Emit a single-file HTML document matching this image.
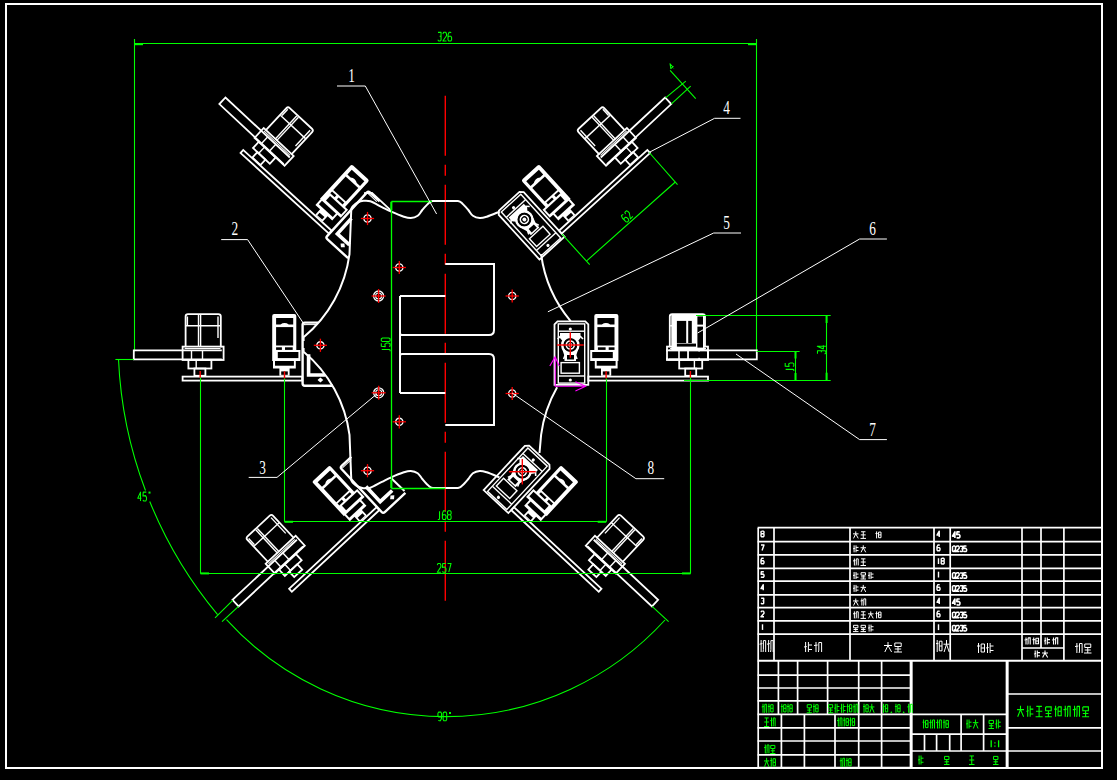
<!DOCTYPE html><html><head><meta charset="utf-8"><title>Hexapod assembly drawing</title><style>html,body{margin:0;padding:0;background:#000;width:1117px;height:780px;overflow:hidden;font-family:"Liberation Sans",sans-serif}svg{display:block}</style></head><body><svg width="1117" height="780" viewBox="0 0 1117 780"><defs><g id="lo"><path d="M221.8,350.3 L133.8,350.3 L133.8,359.3 L221.8,359.3" stroke="#ffffff" stroke-width="1.8" fill="none"/><path d="M185.6,347.3 V316.6 Q185.6,314.2 188,314.2 H218.4 Q220.8,314.2 220.8,316.6 V347.3" stroke="#fff" stroke-width="1.8" fill="none"/><line x1="187.4" y1="316.5" x2="187.4" y2="325" stroke="#ffffff" stroke-width="1.4" /><line x1="218" y1="316.5" x2="218" y2="338" stroke="#ffffff" stroke-width="1.4" /><line x1="198.5" y1="315" x2="198.5" y2="347" stroke="#ffffff" stroke-width="1.4" /><line x1="200.6" y1="315" x2="200.6" y2="347" stroke="#ffffff" stroke-width="1.4" /><line x1="186" y1="325.8" x2="220.4" y2="325.8" stroke="#ffffff" stroke-width="1.4" /><rect x="182.6" y="346.6" width="41" height="13.4" rx="0" stroke="#ffffff" stroke-width="1.8" fill="none"/><line x1="191.5" y1="350.5" x2="191.5" y2="359" stroke="#ffffff" stroke-width="1.4" /><line x1="202.5" y1="350.5" x2="202.5" y2="359" stroke="#ffffff" stroke-width="1.4" /><line x1="184.6" y1="348.5" x2="220.5" y2="348.5" stroke="#ffffff" stroke-width="1.0" /><rect x="188.4" y="360" width="23" height="8.5" rx="0" stroke="#ffffff" stroke-width="1.8" fill="none"/><line x1="196.2" y1="360" x2="196.2" y2="368.5" stroke="#ffffff" stroke-width="1.4" /><rect x="194.4" y="368.5" width="11" height="7.3" rx="0" stroke="#ffffff" stroke-width="1.8" fill="none"/></g><g id="li"><rect x="182.6" y="376.6" width="119.6" height="4" rx="0" stroke="#ffffff" stroke-width="1.8" fill="none"/><path d="M272.2,316 Q272.2,314 274.2,314 H294.3 Q296.3,314 296.3,316 V350.1 H300.4 V360.9 H295.8 V368.6 H289.6 V375.8 H279.4 V368.6 H273 V360.9 H272.2 Z" fill="#fff"/><rect x="276.1" y="327.1" width="17.1" height="18.4" fill="#000"/><rect x="276.1" y="347.3" width="5.8" height="2.6" fill="#000"/><rect x="285" y="347.3" width="7.7" height="2.6" fill="#000"/><rect x="277.8" y="352" width="20.6" height="6.1" fill="#000"/><rect x="275" y="361" width="18.9" height="4.7" fill="#000"/><rect x="281.2" y="371.4" width="6.6" height="3.4" fill="#000"/><path d="M276.1,318.1 H293.2 V324.5 H288.8 Q284.6,321.6 280.4,324.5 H276.1 Z" fill="#000"/></g><g id="brkL"><path d="M318,322.6 H304.8 Q302.6,322.6 302.6,324.8 V383.6 Q302.6,385.8 304.8,385.8 H333" stroke="#fff" stroke-width="2.4" fill="none"/><line x1="304" y1="324.6" x2="316" y2="324.6" stroke="#ffffff" stroke-width="1.0" /><path d="M308.6,354.2 V375 H325" stroke="#fff" stroke-width="3.6" fill="none"/><path d="M317.5,380 L320.4,377.5 L323.3,380 L320.4,382.6Z" fill="#fff"/></g><g id="brkR"><path d="M336.1,384.8 V324.3 L333.1,321.3 H305.3 L302.3,324.3 V384.8 Z" stroke="#fff" stroke-width="1.8" fill="none"/><rect x="305.9" y="323.9" width="26.4" height="59.2" rx="0" stroke="#ffffff" stroke-width="1.4" fill="none"/><line x1="305.9" y1="331.2" x2="332.3" y2="331.2" stroke="#ffffff" stroke-width="1.4" /><path d="M310.1,333 H330.6 V338 L328.1,341 V350 L326.1,356 V361 H314.6 V356 L312.6,350 V341 L310.1,338 Z" fill="#fff"/><circle cx="320.3" cy="345" r="7" fill="#000"/><circle cx="320.3" cy="345" r="8.3" stroke="#fff" stroke-width="2" fill="none"/><circle cx="320.3" cy="345" r="2" fill="#fff"/><rect x="316.6" y="355" width="7" height="4.5" fill="#000"/><circle cx="320.3" cy="345" r="4" stroke="#fff" stroke-width="1.6" fill="none"/><path d="M310.6,336 L307.6,339 M330,336 L333,339 M315.6,354 L313.6,359 M325,354 L327,359" stroke="#fff" stroke-width="1.6"/><rect x="311.2" y="362.6" width="18.3" height="10.6" rx="0" stroke="#ffffff" stroke-width="1.4" fill="none"/><line x1="305.9" y1="376" x2="332.3" y2="376" stroke="#ffffff" stroke-width="1.4" /><circle cx="320.3" cy="329" r="1.6" fill="#fff"/><circle cx="320.3" cy="380" r="1.6" fill="#fff"/></g><g id="brkRr"><line x1="306.9" y1="345" x2="333.7" y2="345" stroke="#ff0000" stroke-width="1.4" /><line x1="320.3" y1="332.3" x2="320.3" y2="357.7" stroke="#ff0000" stroke-width="1.4" /></g><g id="ro"><line x1="200.2" y1="371" x2="200.2" y2="377.8" stroke="#ff0000" stroke-width="1.4" /></g><g id="ri"><line x1="284.5" y1="371.3" x2="284.5" y2="378.6" stroke="#ff0000" stroke-width="1.4" /></g><g id="rmot"><path d="M671.3,350.1 V315.5 Q671.3,314.2 672.6,314.2 H703.3 Q704.6,314.2 704.6,315.5 V350.1 Z" fill="#fff"/><rect x="676.9" y="320.9" width="9.3" height="22.1" fill="#000"/><rect x="688.2" y="320.9" width="3.6" height="22.1" fill="#000"/><rect x="697.4" y="316.4" width="5.6" height="8.2" fill="#000"/><rect x="697.4" y="326.6" width="5.6" height="21" fill="#000"/><rect x="676.9" y="343.6" width="19.1" height="3" fill="#000"/><rect x="665.7" y="351.6" width="14" height="6.2" fill="#000"/><rect x="679.2" y="351.6" width="8.3" height="6.2" fill="#000"/><rect x="688.8" y="351.6" width="17" height="6.2" fill="#000"/><path d="M667,350.3 H708 V359.3 H667 Z" stroke="#fff" stroke-width="1.8" fill="none"/><line x1="679" y1="350.3" x2="679" y2="359.3" stroke="#ffffff" stroke-width="1.6" /><line x1="688" y1="350.3" x2="688" y2="359.3" stroke="#ffffff" stroke-width="1.6" /></g></defs><rect x="0" y="0" width="1117" height="780" fill="#000"/><rect x="6" y="4" width="1096" height="764" rx="0" stroke="#ffffff" stroke-width="2.0" fill="none"/><line x1="134.5" y1="39" x2="134.5" y2="351.5" stroke="#00ff00" stroke-width="1.1" /><line x1="756.5" y1="39" x2="756.5" y2="351.5" stroke="#00ff00" stroke-width="1.1" /><line x1="134.5" y1="43.5" x2="756.5" y2="43.5" stroke="#00ff00" stroke-width="1.1" /><path d="M134.5,43 L143,43 L143,45.2 L134.5,45.2Z" fill="#00ff00"/><path d="M756.5,43 L748,43 L748,45.2 L756.5,45.2Z" fill="#00ff00"/><path d="M437.98,32.38 L441.04,32.38 L441.04,40.12 L440.32,41 L438.7,41 L437.8,39.68 M439.6,36.34 L441.04,36.34 M442.9,33.96 L443.62,32.2 L445.78,32.2 L446.5,33.96 L446.5,35.72 L442.9,41 L446.5,41 M451.24,32.64 L450.16,32.2 L449.08,32.2 L448,34.84 L448,39.68 L448.72,41 L450.88,41 L451.6,39.68 L451.6,37.48 L450.88,36.16 L448.72,36.16 L448,37.48" stroke="#00ff00" stroke-width="1.05" fill="none" stroke-linejoin="round"/><line x1="445.3" y1="95.7" x2="445.3" y2="602.7" stroke="#ff0000" stroke-width="1.4" stroke-dasharray="60 9 11 9"/><use href="#lo" transform=""/><use href="#li" transform=""/><use href="#brkL" transform=""/><use href="#ro" transform=""/><use href="#ri" transform=""/><use href="#lo" transform="translate(890.6,0) scale(-1,1) "/><use href="#rmot"/><use href="#li" transform="translate(890.6,0) scale(-1,1) "/><use href="#brkR" transform="translate(890.6,0) scale(-1,1) "/><use href="#ro" transform="translate(890.6,0) scale(-1,1) "/><use href="#ri" transform="translate(890.6,0) scale(-1,1) "/><use href="#lo" transform="translate(222.5,100.7) rotate(43) translate(-133.8,-354.7)"/><use href="#li" transform="translate(241.89,151.46) rotate(42.4) translate(-182.6,-378.6)"/><use href="#brkL" transform="translate(241.89,151.46) rotate(42.4) translate(-182.6,-378.6)"/><use href="#lo" transform="translate(890.6,0) scale(-1,1) translate(222.5,100.7) rotate(43) translate(-133.8,-354.7)"/><use href="#li" transform="translate(890.6,0) scale(-1,1) translate(241.89,151.46) rotate(42.4) translate(-182.6,-378.6)"/><use href="#brkR" transform="translate(890.6,0) scale(-1,1) translate(241.89,151.46) rotate(42.4) translate(-182.6,-378.6)"/><use href="#lo" transform="translate(235.5,603) rotate(-43) translate(-133.8,-354.7)"/><use href="#li" transform="translate(290.49,590.2) rotate(-43) translate(-182.6,-378.6)"/><use href="#brkL" transform="translate(290.49,590.2) rotate(-43) translate(-182.6,-378.6)"/><use href="#lo" transform="translate(890.6,0) scale(-1,1) translate(235.5,603) rotate(-43) translate(-133.8,-354.7)"/><use href="#li" transform="translate(890.6,0) scale(-1,1) translate(290.49,590.2) rotate(-43) translate(-182.6,-378.6)"/><use href="#brkR" transform="translate(890.6,0) scale(-1,1) translate(290.49,590.2) rotate(-43) translate(-182.6,-378.6)"/><line x1="556.9" y1="345" x2="583.7" y2="345" stroke="#ff0000" stroke-width="1.4" /><line x1="570.3" y1="332.3" x2="570.3" y2="357.7" stroke="#ff0000" stroke-width="1.4" /><line x1="508.92" y1="471.71" x2="535.72" y2="471.71" stroke="#ff0000" stroke-width="1.4" /><line x1="522.32" y1="459.01" x2="522.32" y2="484.41" stroke="#ff0000" stroke-width="1.4" /><path d="M445.3,201.1 C443.2,201.1 435.57,200.67 432.7,201.1 C429.83,201.53 429.83,202.22 428.1,203.7 C426.37,205.18 424.03,207.98 422.3,210 C420.57,212.02 419.62,214.45 417.7,215.8 C415.78,217.15 413.12,217.95 410.8,218.1 C408.48,218.25 407.07,217.77 403.8,216.7 C400.53,215.63 394.85,213.3 391.2,211.7 C387.55,210.1 385.37,208.83 381.9,207.1 C378.43,205.37 373.47,202.35 370.4,201.3 C367.33,200.25 365.62,200.6 363.5,200.8 C361.38,201 359.43,201.63 357.7,202.5 C355.97,203.37 354.17,204.95 353.1,206 C352.03,207.05 351.6,208.33 351.3,208.8 L349.5,254.1 A130.7,130.7 0 0 1 303.6,337.3 L303.6,341" stroke="#fff" stroke-width="2.0" fill="none"/><path d="M445.3,201.1 C443.2,201.1 435.57,200.67 432.7,201.1 C429.83,201.53 429.83,202.22 428.1,203.7 C426.37,205.18 424.03,207.98 422.3,210 C420.57,212.02 419.62,214.45 417.7,215.8 C415.78,217.15 413.12,217.95 410.8,218.1 C408.48,218.25 407.07,217.77 403.8,216.7 C400.53,215.63 394.85,213.3 391.2,211.7 C387.55,210.1 385.37,208.83 381.9,207.1 C378.43,205.37 373.47,202.35 370.4,201.3 C367.33,200.25 365.62,200.6 363.5,200.8 C361.38,201 359.43,201.63 357.7,202.5 C355.97,203.37 354.17,204.95 353.1,206 C352.03,207.05 351.6,208.33 351.3,208.8 L349.5,254.1 A130.7,130.7 0 0 1 303.6,337.3 L303.6,341" stroke="#fff" stroke-width="2.0" fill="none" transform="translate(0,689.0) scale(1,-1)"/><path d="M364,193.2 L372,192.8 L391.4,210.8" stroke="#ffffff" stroke-width="1.8" fill="none"/><path d="M390.5,477.5 L404.5,491" stroke="#ffffff" stroke-width="2.0" fill="none"/><path d="M445.3,201.1 C447.4,201.1 455.03,200.67 457.9,201.1 C460.77,201.53 460.77,202.22 462.5,203.7 C464.23,205.18 466.57,207.98 468.3,210 C470.03,212.02 470.98,214.45 472.9,215.8 C474.82,217.15 477.48,217.95 479.8,218.1 C482.12,218.25 483.53,217.77 486.8,216.7 C490.07,215.63 497.3,212.53 499.4,211.7" stroke="#fff" stroke-width="2.0" fill="none"/><path d="M445.3,201.1 C447.4,201.1 455.03,200.67 457.9,201.1 C460.77,201.53 460.77,202.22 462.5,203.7 C464.23,205.18 466.57,207.98 468.3,210 C470.03,212.02 470.98,214.45 472.9,215.8 C474.82,217.15 477.48,217.95 479.8,218.1 C482.12,218.25 483.53,217.77 486.8,216.7 C490.07,215.63 497.3,212.53 499.4,211.7" stroke="#fff" stroke-width="2.0" fill="none" transform="translate(0,689.0) scale(1,-1)"/><path d="M541.1,254.1 A130.7,130.7 0 0 0 570.8,321.3" stroke="#fff" stroke-width="2.0" fill="none"/><path d="M557.1,387.3 A130.7,130.7 0 0 0 541.1,434.9 L539.5,453" stroke="#fff" stroke-width="2.0" fill="none"/><path d="M400,296 V393 M400,296 H445.3 M445.3,264 H494 V330 Q494,335 489,335 H402 Q400,335 400,333 M400,356 Q400,354 402,354 H489 Q494,354 494,359 V425 H445.3 M445.3,393 H400" stroke="#fff" stroke-width="2.0" fill="none"/><circle cx="367.5" cy="218.5" r="3.6" stroke="#fff" stroke-width="1.4" fill="none"/><line x1="360.9" y1="218.5" x2="374.1" y2="218.5" stroke="#ff0000" stroke-width="1.3" /><line x1="367.5" y1="211.9" x2="367.5" y2="225.1" stroke="#ff0000" stroke-width="1.3" /><circle cx="399.3" cy="267.5" r="3.6" stroke="#fff" stroke-width="1.4" fill="none"/><line x1="392.7" y1="267.5" x2="405.9" y2="267.5" stroke="#ff0000" stroke-width="1.3" /><line x1="399.3" y1="260.9" x2="399.3" y2="274.1" stroke="#ff0000" stroke-width="1.3" /><circle cx="378.6" cy="296" r="5" stroke="#fff" stroke-width="1.3" fill="none"/><circle cx="378.6" cy="296" r="3" stroke="#fff" stroke-width="1.1" fill="none"/><line x1="371.6" y1="296" x2="385.6" y2="296" stroke="#ff0000" stroke-width="1.3" /><line x1="378.6" y1="289" x2="378.6" y2="303" stroke="#ff0000" stroke-width="1.3" /><circle cx="320.4" cy="345.3" r="3.6" stroke="#fff" stroke-width="1.4" fill="none"/><line x1="313.8" y1="345.3" x2="327" y2="345.3" stroke="#ff0000" stroke-width="1.3" /><line x1="320.4" y1="338.7" x2="320.4" y2="351.9" stroke="#ff0000" stroke-width="1.3" /><circle cx="378.7" cy="392.8" r="5" stroke="#fff" stroke-width="1.3" fill="none"/><circle cx="378.7" cy="392.8" r="3" stroke="#fff" stroke-width="1.1" fill="none"/><line x1="371.7" y1="392.8" x2="385.7" y2="392.8" stroke="#ff0000" stroke-width="1.3" /><line x1="378.7" y1="385.8" x2="378.7" y2="399.8" stroke="#ff0000" stroke-width="1.3" /><circle cx="399.3" cy="421.8" r="3.6" stroke="#fff" stroke-width="1.4" fill="none"/><line x1="392.7" y1="421.8" x2="405.9" y2="421.8" stroke="#ff0000" stroke-width="1.3" /><line x1="399.3" y1="415.2" x2="399.3" y2="428.4" stroke="#ff0000" stroke-width="1.3" /><circle cx="367.5" cy="470.7" r="3.6" stroke="#fff" stroke-width="1.4" fill="none"/><line x1="360.9" y1="470.7" x2="374.1" y2="470.7" stroke="#ff0000" stroke-width="1.3" /><line x1="367.5" y1="464.1" x2="367.5" y2="477.3" stroke="#ff0000" stroke-width="1.3" /><circle cx="512.2" cy="296" r="3.6" stroke="#fff" stroke-width="1.4" fill="none"/><line x1="505.6" y1="296" x2="518.8" y2="296" stroke="#ff0000" stroke-width="1.3" /><line x1="512.2" y1="289.4" x2="512.2" y2="302.6" stroke="#ff0000" stroke-width="1.3" /><circle cx="512.2" cy="393.5" r="3.6" stroke="#fff" stroke-width="1.4" fill="none"/><line x1="505.6" y1="393.5" x2="518.8" y2="393.5" stroke="#ff0000" stroke-width="1.3" /><line x1="512.2" y1="386.9" x2="512.2" y2="400.1" stroke="#ff0000" stroke-width="1.3" /><line x1="391.5" y1="201.5" x2="391.5" y2="488.5" stroke="#00ff00" stroke-width="1.3" /><line x1="391.5" y1="201.5" x2="432" y2="201.5" stroke="#00ff00" stroke-width="1.3" /><line x1="391.5" y1="488.5" x2="445.3" y2="488.5" stroke="#00ff00" stroke-width="1.3" /><path d="M390.3,201.8 L392.3,201.8 L392.3,210 L390.3,210Z" fill="#00ff00"/><path d="M390.3,488.1 L392.3,488.1 L392.3,480 L390.3,480Z" fill="#00ff00"/><path d="M2.23,0.44 L2.23,8.18 L1.8,8.8 L0.54,8.8 M8.52,0 L5.46,0 L5.17,3.96 L7.62,3.52 L8.7,5.28 L8.7,7.48 L7.98,8.8 L5.82,8.8 L5.1,7.92 M10.92,0 L13.08,0 L13.8,1.32 L13.8,7.48 L13.08,8.8 L10.92,8.8 L10.2,7.48 L10.2,1.32 L10.92,0" stroke="#00ff00" stroke-width="1.05" fill="none" stroke-linejoin="round" transform="translate(381.3,351.8) rotate(-90)"/><line x1="284.5" y1="378.6" x2="284.5" y2="521.5" stroke="#00ff00" stroke-width="1.1" /><line x1="606.5" y1="378.6" x2="606.5" y2="521.5" stroke="#00ff00" stroke-width="1.1" /><line x1="284.5" y1="521.5" x2="606.5" y2="521.5" stroke="#00ff00" stroke-width="1.1" /><path d="M284.5,520.8 L293,520.8 L293,522.8 L284.5,522.8Z" fill="#00ff00"/><path d="M606.2,520.8 L597.7,520.8 L597.7,522.8 L606.2,522.8Z" fill="#00ff00"/><path d="M439.53,511.23 L439.53,518.8 L439.1,519.4 L437.84,519.4 M445.64,511.23 L444.56,510.8 L443.48,510.8 L442.4,513.38 L442.4,518.11 L443.12,519.4 L445.28,519.4 L446,518.11 L446,515.96 L445.28,514.67 L443.12,514.67 L442.4,515.96 M448.22,510.8 L450.38,510.8 L451.1,511.83 L451.1,513.81 L450.38,514.84 L448.22,514.84 L447.5,513.81 L447.5,511.83 L448.22,510.8 M448.22,514.84 L447.5,515.96 L447.5,518.37 L448.22,519.4 L450.38,519.4 L451.1,518.37 L451.1,515.96 L450.38,514.84" stroke="#00ff00" stroke-width="1.05" fill="none" stroke-linejoin="round"/><line x1="200.5" y1="377.8" x2="200.5" y2="573.5" stroke="#00ff00" stroke-width="1.1" /><line x1="690.5" y1="377.8" x2="690.5" y2="573.5" stroke="#00ff00" stroke-width="1.1" /><line x1="200.5" y1="573.5" x2="690.5" y2="573.5" stroke="#00ff00" stroke-width="1.1" /><path d="M200.5,572.4 L209,572.4 L209,574.4 L200.5,574.4Z" fill="#00ff00"/><path d="M690.5,572.4 L682,572.4 L682,574.4 L690.5,574.4Z" fill="#00ff00"/><path d="M437.3,565.16 L438.02,563.4 L440.18,563.4 L440.9,565.16 L440.9,566.92 L437.3,572.2 L440.9,572.2 M445.82,563.4 L442.76,563.4 L442.47,567.36 L444.92,566.92 L446,568.68 L446,570.88 L445.28,572.2 L443.12,572.2 L442.4,571.32 M447.5,563.4 L451.1,563.4 L448.76,572.2" stroke="#00ff00" stroke-width="1.05" fill="none" stroke-linejoin="round"/><line x1="696" y1="315.5" x2="830.7" y2="315.5" stroke="#00ff00" stroke-width="1.1" /><line x1="684" y1="380.5" x2="830.7" y2="380.5" stroke="#00ff00" stroke-width="1.1" /><line x1="826.5" y1="315.5" x2="826.5" y2="380.5" stroke="#00ff00" stroke-width="1.1" /><path d="M825.6,315.5 L827.6,315.5 L827.6,323 L825.6,323Z" fill="#00ff00"/><path d="M825.6,380.2 L827.6,380.2 L827.6,372.7 L825.6,372.7Z" fill="#00ff00"/><line x1="756.5" y1="351.5" x2="799.6" y2="351.5" stroke="#00ff00" stroke-width="1.1" /><line x1="795.5" y1="351.5" x2="795.5" y2="380.5" stroke="#00ff00" stroke-width="1.1" /><path d="M794.5,351.4 L796.5,351.4 L796.5,358.5 L794.5,358.5Z" fill="#00ff00"/><path d="M794.5,380.2 L796.5,380.2 L796.5,373 L794.5,373Z" fill="#00ff00"/><path d="M0.18,0.17 L3.24,0.17 L3.24,7.74 L2.52,8.6 L0.9,8.6 L0,7.31 M1.8,4.04 L3.24,4.04 M7.8,8.6 L7.8,0 L5.1,6.02 L8.7,6.02" stroke="#00ff00" stroke-width="1.05" fill="none" stroke-linejoin="round" transform="translate(817.3,354) rotate(-90)"/><path d="M2.23,0.43 L2.23,8 L1.8,8.6 L0.54,8.6 M8.52,0 L5.46,0 L5.17,3.87 L7.62,3.44 L8.7,5.16 L8.7,7.31 L7.98,8.6 L5.82,8.6 L5.1,7.74" stroke="#00ff00" stroke-width="1.05" fill="none" stroke-linejoin="round" transform="translate(785.2,371.6) rotate(-90)"/><line x1="649.2" y1="152.5" x2="677.5" y2="184.7" stroke="#00ff00" stroke-width="1.1" /><line x1="562" y1="234.2" x2="589.7" y2="264.7" stroke="#00ff00" stroke-width="1.1" /><line x1="586.7" y1="260.8" x2="675.3" y2="182" stroke="#00ff00" stroke-width="1.1" /><path d="M3.24,0.43 L2.16,0 L1.08,0 L0,2.58 L0,7.31 L0.72,8.6 L2.88,8.6 L3.6,7.31 L3.6,5.16 L2.88,3.87 L0.72,3.87 L0,5.16 M5.1,1.72 L5.82,0 L7.98,0 L8.7,1.72 L8.7,3.44 L5.1,8.6 L8.7,8.6" stroke="#00ff00" stroke-width="1.05" fill="none" transform="translate(620.7,216.5) rotate(-45)" stroke-linejoin="round"/><line x1="665.6" y1="97.9" x2="685.8" y2="81.2" stroke="#00ff00" stroke-width="1.1" /><line x1="671.4" y1="103.9" x2="690.7" y2="86.2" stroke="#00ff00" stroke-width="1.1" /><line x1="670.1" y1="70.3" x2="695.7" y2="98.7" stroke="#00ff00" stroke-width="1.1" /><path d="M2.7,6 L2.7,0 L0,4.2 L3.6,4.2" stroke="#00ff00" stroke-width="1.0" fill="none" transform="translate(672,70) rotate(-41.6) translate(0,-6)" stroke-linejoin="round"/><line x1="115.4" y1="359.5" x2="133.8" y2="359.5" stroke="#00ff00" stroke-width="1.1" /><line x1="232.7" y1="600.3" x2="215" y2="617.8" stroke="#00ff00" stroke-width="1.1" /><line x1="238.5" y1="606.3" x2="222" y2="621.7" stroke="#00ff00" stroke-width="1.1" /><line x1="652.1" y1="606.3" x2="668.6" y2="621.7" stroke="#00ff00" stroke-width="1.1" /><path d="M118.5,359.2 A424.6,424.6 0 0 0 145.49,490.5 M149.75,501.5 A424.6,424.6 0 0 0 217.6,614.6" stroke="#00ff00" stroke-width="1.1" fill="none"/><path d="M226.5,619.7 A296.7,296.7 0 0 0 665,620" stroke="#00ff00" stroke-width="1.1" fill="none"/><path d="M140.5,500.9 L140.5,492.1 L137.8,498.26 L141.4,498.26 M146.32,492.1 L143.26,492.1 L142.97,496.06 L145.42,495.62 L146.5,497.38 L146.5,499.58 L145.78,500.9 L143.62,500.9 L142.9,500.02" stroke="#00ff00" stroke-width="1.05" fill="none" stroke-linejoin="round"/><rect x="148.5" y="491.6" width="2" height="2" fill="#00ff00"/><path d="M438.26,720.37 L439.34,720.8 L440.42,720.8 L441.5,718.19 L441.5,713.4 L440.78,712.1 L438.62,712.1 L437.9,713.4 L437.9,715.58 L438.62,716.88 L440.78,716.88 L441.5,715.58 M443.82,712.1 L445.98,712.1 L446.7,713.4 L446.7,719.5 L445.98,720.8 L443.82,720.8 L443.1,719.5 L443.1,713.4 L443.82,712.1" stroke="#00ff00" stroke-width="1.05" fill="none" stroke-linejoin="round"/><rect x="449" y="712" width="2" height="2" fill="#00ff00"/><path d="M337,86 L365.3,86 L436.6,214" stroke="#ffffff" stroke-width="1.0" fill="none"/><text x="0" y="0" font-family="Liberation Serif" font-size="18.5" fill="#fff" transform="translate(348.2,82.2) scale(0.72,1)">1</text><path d="M221.2,239.6 L247.6,239.6 L304.7,325.2" stroke="#ffffff" stroke-width="1.0" fill="none"/><text x="0" y="0" font-family="Liberation Serif" font-size="18.5" fill="#fff" transform="translate(231.5,235.2) scale(0.72,1)">2</text><path d="M248.7,477.4 L277,477.4 L377,393.8" stroke="#ffffff" stroke-width="1.0" fill="none"/><text x="0" y="0" font-family="Liberation Serif" font-size="18.5" fill="#fff" transform="translate(259.2,474.3) scale(0.72,1)">3</text><path d="M740.5,118.3 L714.6,118.3 L649.7,152.1" stroke="#ffffff" stroke-width="1.0" fill="none"/><text x="0" y="0" font-family="Liberation Serif" font-size="18.5" fill="#fff" transform="translate(723.3,114) scale(0.72,1)">4</text><path d="M741,233 L713.7,233 L547.9,311.8" stroke="#ffffff" stroke-width="1.0" fill="none"/><text x="0" y="0" font-family="Liberation Serif" font-size="18.5" fill="#fff" transform="translate(723.3,229) scale(0.72,1)">5</text><path d="M886.9,239 L859.6,239 L697.6,333" stroke="#ffffff" stroke-width="1.0" fill="none"/><text x="0" y="0" font-family="Liberation Serif" font-size="18.5" fill="#fff" transform="translate(869.3,235) scale(0.72,1)">6</text><path d="M886.9,439.6 L859.6,439.6 L736,354" stroke="#ffffff" stroke-width="1.0" fill="none"/><text x="0" y="0" font-family="Liberation Serif" font-size="18.5" fill="#fff" transform="translate(869.2,435.7) scale(0.72,1)">7</text><path d="M664.2,478.7 L635.9,478.7 L512.1,393" stroke="#ffffff" stroke-width="1.0" fill="none"/><text x="0" y="0" font-family="Liberation Serif" font-size="18.5" fill="#fff" transform="translate(647.5,473.8) scale(0.72,1)">8</text><path d="M555.2,356.7 V386.3 H585.6 M549.8,366.1 L555.2,356.7 L559.2,366.1 M575.4,381.7 L585.6,386.3 L575.4,390.9" stroke="#ff00ff" stroke-width="1.1" fill="none"/><line x1="757.6" y1="527.7" x2="1101.6" y2="527.7" stroke="#ffffff" stroke-width="1.7" /><line x1="757.6" y1="541.6" x2="1101.6" y2="541.6" stroke="#ffffff" stroke-width="1.7" /><line x1="757.6" y1="554.8" x2="1101.6" y2="554.8" stroke="#ffffff" stroke-width="1.7" /><line x1="757.6" y1="568.3" x2="1101.6" y2="568.3" stroke="#ffffff" stroke-width="1.7" /><line x1="757.6" y1="581.2" x2="1101.6" y2="581.2" stroke="#ffffff" stroke-width="1.7" /><line x1="757.6" y1="594.8" x2="1101.6" y2="594.8" stroke="#ffffff" stroke-width="1.7" /><line x1="757.6" y1="607.7" x2="1101.6" y2="607.7" stroke="#ffffff" stroke-width="1.7" /><line x1="757.6" y1="620.9" x2="1101.6" y2="620.9" stroke="#ffffff" stroke-width="1.7" /><line x1="757.6" y1="634.2" x2="1101.6" y2="634.2" stroke="#ffffff" stroke-width="1.7" /><line x1="757.6" y1="660.8" x2="1101.6" y2="660.8" stroke="#ffffff" stroke-width="2.0" /><line x1="758.2" y1="528" x2="758.2" y2="660.8" stroke="#ffffff" stroke-width="1.7" /><line x1="774" y1="528" x2="774" y2="660.8" stroke="#ffffff" stroke-width="1.7" /><line x1="850" y1="528" x2="850" y2="660.8" stroke="#ffffff" stroke-width="1.7" /><line x1="934" y1="528" x2="934" y2="660.8" stroke="#ffffff" stroke-width="1.7" /><line x1="950.2" y1="528" x2="950.2" y2="660.8" stroke="#ffffff" stroke-width="1.7" /><line x1="1022" y1="528" x2="1022" y2="660.8" stroke="#ffffff" stroke-width="1.7" /><line x1="1063.9" y1="528" x2="1063.9" y2="660.8" stroke="#ffffff" stroke-width="1.7" /><line x1="1041" y1="528" x2="1041" y2="648" stroke="#ffffff" stroke-width="1.7" /><line x1="1022" y1="648" x2="1063.9" y2="648" stroke="#ffffff" stroke-width="1.7" /><path d="M761.6,531.1 L763.4,531.1 L764,531.77 L764,533.06 L763.4,533.73 L761.6,533.73 L761,533.06 L761,531.77 L761.6,531.1 M761.6,533.73 L761,534.46 L761,536.03 L761.6,536.7 L763.4,536.7 L764,536.03 L764,534.46 L763.4,533.73" stroke="#ffffff" stroke-width="1.4" fill="none" stroke-linejoin="round"/><path d="M853,533.85 L858.5,533.85 M855.75,531.4 L855.75,533.85 M855.75,533.85 L853.55,538.4 M855.75,533.85 L858.23,538.4 M861.05,531.75 L865.45,531.75 M863.25,531.75 L863.25,538.4 M860.77,534.9 L865.73,534.9 M860.5,538.4 L866,538.4 M876.6,531.4 L876.6,538.4 M875.5,533.5 L877.7,533.5 M878.52,532.1 L881,532.1 L881,537.7 L878.52,537.7 L878.52,532.1 M878.52,534.9 L881,534.9" stroke="#ffffff" stroke-width="1.0" fill="none"/><path d="M939.25,536.9 L939.25,531.1 L937,535.16 L940,535.16" stroke="#ffffff" stroke-width="1.4" fill="none" stroke-linejoin="round"/><path d="M954.9,537.9 L954.9,531.9 L952.5,536.1 L955.7,536.1 M959.74,531.9 L957.02,531.9 L956.76,534.6 L958.94,534.3 L959.9,535.5 L959.9,537 L959.26,537.9 L957.34,537.9 L956.7,537.3" stroke="#ffffff" stroke-width="1.6" fill="none" stroke-linejoin="round"/><path d="M761,545 L764,545 L762.05,550.6" stroke="#ffffff" stroke-width="1.4" fill="none" stroke-linejoin="round"/><path d="M854.1,545.3 L854.1,552.3 M856.02,545.3 L856.02,552.3 M856.02,547.4 L858.5,547.4 M856.02,550.55 L858.5,550.55 M853,548.8 L854.92,548.45 M860.5,547.75 L866,547.75 M863.25,545.3 L863.25,547.75 M863.25,547.75 L861.05,552.3 M863.25,547.75 L865.73,552.3" stroke="#ffffff" stroke-width="1.0" fill="none"/><path d="M939.7,545.29 L938.8,545 L937.9,545 L937,546.74 L937,549.93 L937.6,550.8 L939.4,550.8 L940,549.93 L940,548.48 L939.4,547.61 L937.6,547.61 L937,548.48" stroke="#ffffff" stroke-width="1.4" fill="none" stroke-linejoin="round"/><path d="M953.1,546.1 L954.9,546.1 L955.5,546.93 L955.5,550.77 L954.9,551.6 L953.1,551.6 L952.5,550.77 L952.5,546.93 L953.1,546.1 M954.15,549.95 L955.65,552.15 M956.2,547.2 L956.8,546.1 L958.6,546.1 L959.2,547.2 L959.2,548.3 L956.2,551.6 L959.2,551.6 M960.05,546.21 L962.6,546.21 L962.6,551.05 L962,551.6 L960.65,551.6 L959.9,550.77 M961.4,548.69 L962.6,548.69 M966.45,546.1 L963.9,546.1 L963.66,548.58 L965.7,548.3 L966.6,549.4 L966.6,550.77 L966,551.6 L964.2,551.6 L963.6,551.05" stroke="#ffffff" stroke-width="1.5" fill="none" stroke-linejoin="round"/><path d="M763.7,558.48 L762.8,558.2 L761.9,558.2 L761,559.88 L761,562.96 L761.6,563.8 L763.4,563.8 L764,562.96 L764,561.56 L763.4,560.72 L761.6,560.72 L761,561.56" stroke="#ffffff" stroke-width="1.4" fill="none" stroke-linejoin="round"/><path d="M854.38,558.5 L854.38,565.5 M853,560.95 L855.48,560.6 M856.3,558.85 L856.3,564.1 L856.02,565.5 M856.3,558.85 L858.23,558.85 L858.23,565.5 M861.05,558.85 L865.45,558.85 M863.25,558.85 L863.25,565.5 M860.77,562 L865.73,562 M860.5,565.5 L866,565.5" stroke="#ffffff" stroke-width="1.0" fill="none"/><path d="M938.5,558.2 L938.5,564 M941.8,558.2 L943.6,558.2 L944.2,558.9 L944.2,560.23 L943.6,560.93 L941.8,560.93 L941.2,560.23 L941.2,558.9 L941.8,558.2 M941.8,560.93 L941.2,561.68 L941.2,563.3 L941.8,564 L943.6,564 L944.2,563.3 L944.2,561.68 L943.6,560.93" stroke="#ffffff" stroke-width="1.4" fill="none" stroke-linejoin="round"/><path d="M763.85,571.7 L761.3,571.7 L761.06,574.22 L763.1,573.94 L764,575.06 L764,576.46 L763.4,577.3 L761.6,577.3 L761,576.74" stroke="#ffffff" stroke-width="1.4" fill="none" stroke-linejoin="round"/><path d="M854.1,572 L854.1,579 M856.02,572 L856.02,579 M856.02,574.1 L858.5,574.1 M856.02,577.25 L858.5,577.25 M853,575.5 L854.92,575.15 M861.05,572.7 L865.45,572.7 L865.45,575.15 L861.05,575.15 L861.05,572.7 M863.25,575.15 L863.25,579 M861.05,576.9 L865.45,576.9 M860.5,579 L866,579 M869.1,572 L869.1,579 M871.02,572 L871.02,579 M871.02,574.1 L873.5,574.1 M871.02,577.25 L873.5,577.25 M868,575.5 L869.92,575.15" stroke="#ffffff" stroke-width="1.0" fill="none"/><path d="M938.5,571.7 L938.5,577.5" stroke="#ffffff" stroke-width="1.4" fill="none" stroke-linejoin="round"/><path d="M953.1,572.8 L954.9,572.8 L955.5,573.62 L955.5,577.47 L954.9,578.3 L953.1,578.3 L952.5,577.47 L952.5,573.62 L953.1,572.8 M954.15,576.65 L955.65,578.85 M956.2,573.9 L956.8,572.8 L958.6,572.8 L959.2,573.9 L959.2,575 L956.2,578.3 L959.2,578.3 M960.05,572.91 L962.6,572.91 L962.6,577.75 L962,578.3 L960.65,578.3 L959.9,577.47 M961.4,575.38 L962.6,575.38 M966.45,572.8 L963.9,572.8 L963.66,575.27 L965.7,575 L966.6,576.1 L966.6,577.47 L966,578.3 L964.2,578.3 L963.6,577.75" stroke="#ffffff" stroke-width="1.5" fill="none" stroke-linejoin="round"/><path d="M763.25,590.2 L763.25,584.6 L761,588.52 L764,588.52" stroke="#ffffff" stroke-width="1.4" fill="none" stroke-linejoin="round"/><path d="M854.1,584.9 L854.1,591.9 M856.02,584.9 L856.02,591.9 M856.02,587 L858.5,587 M856.02,590.15 L858.5,590.15 M853,588.4 L854.92,588.05 M860.5,587.35 L866,587.35 M863.25,584.9 L863.25,587.35 M863.25,587.35 L861.05,591.9 M863.25,587.35 L865.73,591.9" stroke="#ffffff" stroke-width="1.0" fill="none"/><path d="M939.7,584.89 L938.8,584.6 L937.9,584.6 L937,586.34 L937,589.53 L937.6,590.4 L939.4,590.4 L940,589.53 L940,588.08 L939.4,587.21 L937.6,587.21 L937,588.08" stroke="#ffffff" stroke-width="1.4" fill="none" stroke-linejoin="round"/><path d="M953.1,585.7 L954.9,585.7 L955.5,586.53 L955.5,590.38 L954.9,591.2 L953.1,591.2 L952.5,590.38 L952.5,586.53 L953.1,585.7 M954.15,589.55 L955.65,591.75 M956.2,586.8 L956.8,585.7 L958.6,585.7 L959.2,586.8 L959.2,587.9 L956.2,591.2 L959.2,591.2 M960.05,585.81 L962.6,585.81 L962.6,590.65 L962,591.2 L960.65,591.2 L959.9,590.38 M961.4,588.29 L962.6,588.29 M966.45,585.7 L963.9,585.7 L963.66,588.18 L965.7,587.9 L966.6,589 L966.6,590.38 L966,591.2 L964.2,591.2 L963.6,590.65" stroke="#ffffff" stroke-width="1.5" fill="none" stroke-linejoin="round"/><path d="M761.15,598.31 L763.7,598.31 L763.7,603.24 L763.1,603.8 L761.75,603.8 L761,602.96 M762.5,600.83 L763.7,600.83" stroke="#ffffff" stroke-width="1.4" fill="none" stroke-linejoin="round"/><path d="M853,600.95 L858.5,600.95 M855.75,598.5 L855.75,600.95 M855.75,600.95 L853.55,605.5 M855.75,600.95 L858.23,605.5 M861.88,598.5 L861.88,605.5 M860.5,600.95 L862.98,600.6 M863.8,598.85 L863.8,604.1 L863.52,605.5 M863.8,598.85 L865.73,598.85 L865.73,605.5" stroke="#ffffff" stroke-width="1.0" fill="none"/><path d="M939.25,604 L939.25,598.2 L937,602.26 L940,602.26" stroke="#ffffff" stroke-width="1.4" fill="none" stroke-linejoin="round"/><path d="M954.9,605 L954.9,599 L952.5,603.2 L955.7,603.2 M959.74,599 L957.02,599 L956.76,601.7 L958.94,601.4 L959.9,602.6 L959.9,604.1 L959.26,605 L957.34,605 L956.7,604.4" stroke="#ffffff" stroke-width="1.6" fill="none" stroke-linejoin="round"/><path d="M761,612.22 L761.6,611.1 L763.4,611.1 L764,612.22 L764,613.34 L761,616.7 L764,616.7" stroke="#ffffff" stroke-width="1.4" fill="none" stroke-linejoin="round"/><path d="M854.38,611.4 L854.38,618.4 M853,613.85 L855.48,613.5 M856.3,611.75 L856.3,617 L856.02,618.4 M856.3,611.75 L858.23,611.75 L858.23,618.4 M861.05,611.75 L865.45,611.75 M863.25,611.75 L863.25,618.4 M860.77,614.9 L865.73,614.9 M860.5,618.4 L866,618.4 M868,613.85 L873.5,613.85 M870.75,611.4 L870.75,613.85 M870.75,613.85 L868.55,618.4 M870.75,613.85 L873.23,618.4 M876.6,611.4 L876.6,618.4 M875.5,613.5 L877.7,613.5 M878.52,612.1 L881,612.1 L881,617.7 L878.52,617.7 L878.52,612.1 M878.52,614.9 L881,614.9" stroke="#ffffff" stroke-width="1.0" fill="none"/><path d="M939.7,611.39 L938.8,611.1 L937.9,611.1 L937,612.84 L937,616.03 L937.6,616.9 L939.4,616.9 L940,616.03 L940,614.58 L939.4,613.71 L937.6,613.71 L937,614.58" stroke="#ffffff" stroke-width="1.4" fill="none" stroke-linejoin="round"/><path d="M953.1,612.2 L954.9,612.2 L955.5,613.03 L955.5,616.88 L954.9,617.7 L953.1,617.7 L952.5,616.88 L952.5,613.03 L953.1,612.2 M954.15,616.05 L955.65,618.25 M956.2,613.3 L956.8,612.2 L958.6,612.2 L959.2,613.3 L959.2,614.4 L956.2,617.7 L959.2,617.7 M960.05,612.31 L962.6,612.31 L962.6,617.15 L962,617.7 L960.65,617.7 L959.9,616.88 M961.4,614.79 L962.6,614.79 M966.45,612.2 L963.9,612.2 L963.66,614.68 L965.7,614.4 L966.6,615.5 L966.6,616.88 L966,617.7 L964.2,617.7 L963.6,617.15" stroke="#ffffff" stroke-width="1.5" fill="none" stroke-linejoin="round"/><path d="M762.5,624.3 L762.5,629.9" stroke="#ffffff" stroke-width="1.4" fill="none" stroke-linejoin="round"/><path d="M853.55,625.3 L857.95,625.3 L857.95,627.75 L853.55,627.75 L853.55,625.3 M855.75,627.75 L855.75,631.6 M853.55,629.5 L857.95,629.5 M853,631.6 L858.5,631.6 M861.05,625.3 L865.45,625.3 L865.45,627.75 L861.05,627.75 L861.05,625.3 M863.25,627.75 L863.25,631.6 M861.05,629.5 L865.45,629.5 M860.5,631.6 L866,631.6 M869.1,624.6 L869.1,631.6 M871.02,624.6 L871.02,631.6 M871.02,626.7 L873.5,626.7 M871.02,629.85 L873.5,629.85 M868,628.1 L869.92,627.75" stroke="#ffffff" stroke-width="1.0" fill="none"/><path d="M938.5,624.3 L938.5,630.1" stroke="#ffffff" stroke-width="1.4" fill="none" stroke-linejoin="round"/><path d="M953.1,625.4 L954.9,625.4 L955.5,626.23 L955.5,630.07 L954.9,630.9 L953.1,630.9 L952.5,630.07 L952.5,626.23 L953.1,625.4 M954.15,629.25 L955.65,631.45 M956.2,626.5 L956.8,625.4 L958.6,625.4 L959.2,626.5 L959.2,627.6 L956.2,630.9 L959.2,630.9 M960.05,625.51 L962.6,625.51 L962.6,630.35 L962,630.9 L960.65,630.9 L959.9,630.07 M961.4,627.99 L962.6,627.99 M966.45,625.4 L963.9,625.4 L963.66,627.88 L965.7,627.6 L966.6,628.7 L966.6,630.07 L966,630.9 L964.2,630.9 L963.6,630.35" stroke="#ffffff" stroke-width="1.5" fill="none" stroke-linejoin="round"/><path d="M761.12,640 L761.12,652 M759.5,644.2 L762.42,643.6 M763.4,640.6 L763.4,649.6 L763.08,652 M763.4,640.6 L765.67,640.6 L765.67,652 M768.62,640 L768.62,652 M767,644.2 L769.92,643.6 M770.9,640.6 L770.9,649.6 L770.58,652 M770.9,640.6 L773.17,640.6 L773.17,652" stroke="#ffffff" stroke-width="1.0" fill="none"/><path d="M805.6,642 L805.6,652 M808.4,642 L808.4,652 M808.4,645 L812,645 M808.4,649.5 L812,649.5 M804,647 L806.8,646.5 M816,642 L816,652 M814,645.5 L817.6,645 M818.8,642.5 L818.8,650 L818.4,652 M818.8,642.5 L821.6,642.5 L821.6,652" stroke="#ffffff" stroke-width="1.0" fill="none"/><path d="M884,645.5 L892,645.5 M888,642 L888,645.5 M888,645.5 L884.8,652 M888,645.5 L891.6,652 M894.8,643 L901.2,643 L901.2,646.5 L894.8,646.5 L894.8,643 M898,646.5 L898,652 M894.8,649 L901.2,649 M894,652 L902,652" stroke="#ffffff" stroke-width="1.0" fill="none"/><path d="M937.2,640 L937.2,652 M936,643.6 L938.4,643.6 M939.3,641.2 L942,641.2 L942,650.8 L939.3,650.8 L939.3,641.2 M939.3,646 L942,646 M943.5,644.2 L949.5,644.2 M946.5,640 L946.5,644.2 M946.5,644.2 L944.1,652 M946.5,644.2 L949.2,652" stroke="#ffffff" stroke-width="1.0" fill="none"/><path d="M978.5,643 L978.5,653 M977,646 L980,646 M981.12,644 L984.5,644 L984.5,652 L981.12,652 L981.12,644 M981.12,648 L984.5,648 M987.5,643 L987.5,653 M990.12,643 L990.12,653 M990.12,646 L993.5,646 M990.12,650.5 L993.5,650.5 M986,648 L988.62,647.5" stroke="#ffffff" stroke-width="1.0" fill="none"/><path d="M1026,637.5 L1026,644.5 M1024.5,639.95 L1027.2,639.6 M1028.1,637.85 L1028.1,643.1 L1027.8,644.5 M1028.1,637.85 L1030.2,637.85 L1030.2,644.5 M1033.7,637.5 L1033.7,644.5 M1032.5,639.6 L1034.9,639.6 M1035.8,638.2 L1038.5,638.2 L1038.5,643.8 L1035.8,643.8 L1035.8,638.2 M1035.8,641 L1038.5,641" stroke="#ffffff" stroke-width="1.1" fill="none"/><path d="M1045.2,637.5 L1045.2,644.5 M1047.3,637.5 L1047.3,644.5 M1047.3,639.6 L1050,639.6 M1047.3,642.75 L1050,642.75 M1044,641 L1046.1,640.65 M1053.5,637.5 L1053.5,644.5 M1052,639.95 L1054.7,639.6 M1055.6,637.85 L1055.6,643.1 L1055.3,644.5 M1055.6,637.85 L1057.7,637.85 L1057.7,644.5" stroke="#ffffff" stroke-width="1.1" fill="none"/><path d="M1035.2,650.5 L1035.2,657.5 M1037.3,650.5 L1037.3,657.5 M1037.3,652.6 L1040,652.6 M1037.3,655.75 L1040,655.75 M1034,654 L1036.1,653.65 M1042,652.95 L1048,652.95 M1045,650.5 L1045,652.95 M1045,652.95 L1042.6,657.5 M1045,652.95 L1047.7,657.5" stroke="#ffffff" stroke-width="1.1" fill="none"/><path d="M1076.88,643 L1076.88,653 M1075,646.5 L1078.38,646 M1079.5,643.5 L1079.5,651 L1079.12,653 M1079.5,643.5 L1082.12,643.5 L1082.12,653 M1084.75,644 L1090.75,644 L1090.75,647.5 L1084.75,647.5 L1084.75,644 M1087.75,647.5 L1087.75,653 M1084.75,650 L1090.75,650 M1084,653 L1091.5,653" stroke="#ffffff" stroke-width="1.0" fill="none"/><line x1="757.6" y1="675.1" x2="910.5" y2="675.1" stroke="#ffffff" stroke-width="1.7" /><line x1="757.6" y1="688" x2="910.5" y2="688" stroke="#ffffff" stroke-width="1.7" /><line x1="757.6" y1="700.8" x2="910.5" y2="700.8" stroke="#ffffff" stroke-width="1.7" /><line x1="757.6" y1="714.3" x2="910.5" y2="714.3" stroke="#ffffff" stroke-width="1.7" /><line x1="757.6" y1="727.8" x2="910.5" y2="727.8" stroke="#ffffff" stroke-width="1.7" /><line x1="757.6" y1="741" x2="910.5" y2="741" stroke="#ffffff" stroke-width="1.7" /><line x1="757.6" y1="754.8" x2="910.5" y2="754.8" stroke="#ffffff" stroke-width="1.7" /><line x1="757.6" y1="767.5" x2="910.5" y2="767.5" stroke="#ffffff" stroke-width="1.7" /><line x1="778.4" y1="660.8" x2="778.4" y2="714.3" stroke="#ffffff" stroke-width="1.7" /><line x1="797.6" y1="660.8" x2="797.6" y2="714.3" stroke="#ffffff" stroke-width="1.7" /><line x1="827.6" y1="660.8" x2="827.6" y2="714.3" stroke="#ffffff" stroke-width="1.7" /><line x1="858.7" y1="660.8" x2="858.7" y2="714.3" stroke="#ffffff" stroke-width="1.7" /><line x1="881.6" y1="660.8" x2="881.6" y2="714.3" stroke="#ffffff" stroke-width="1.7" /><line x1="781.4" y1="714.3" x2="781.4" y2="768" stroke="#ffffff" stroke-width="1.7" /><line x1="804.4" y1="714.3" x2="804.4" y2="768" stroke="#ffffff" stroke-width="1.7" /><line x1="835" y1="714.3" x2="835" y2="768" stroke="#ffffff" stroke-width="1.7" /><line x1="858.7" y1="714.3" x2="858.7" y2="768" stroke="#ffffff" stroke-width="1.7" /><line x1="881.6" y1="714.3" x2="881.6" y2="768" stroke="#ffffff" stroke-width="1.7" /><line x1="758.2" y1="660.8" x2="758.2" y2="768" stroke="#ffffff" stroke-width="1.7" /><line x1="910.5" y1="660.8" x2="910.5" y2="768" stroke="#ffffff" stroke-width="1.7" /><line x1="911.8" y1="660.8" x2="911.8" y2="768" stroke="#ffffff" stroke-width="1.7" /><line x1="911.8" y1="714.3" x2="1006.5" y2="714.3" stroke="#ffffff" stroke-width="1.7" /><line x1="911.8" y1="734.2" x2="1006.5" y2="734.2" stroke="#ffffff" stroke-width="1.7" /><line x1="911.8" y1="751" x2="1006.5" y2="751" stroke="#ffffff" stroke-width="1.7" /><line x1="961.1" y1="714.3" x2="961.1" y2="751" stroke="#ffffff" stroke-width="1.7" /><line x1="983.6" y1="714.3" x2="983.6" y2="751" stroke="#ffffff" stroke-width="1.7" /><line x1="924.5" y1="734.2" x2="924.5" y2="751" stroke="#ffffff" stroke-width="1.7" /><line x1="936.6" y1="734.2" x2="936.6" y2="751" stroke="#ffffff" stroke-width="1.7" /><line x1="949.7" y1="734.2" x2="949.7" y2="751" stroke="#ffffff" stroke-width="1.7" /><line x1="1006.5" y1="660.8" x2="1006.5" y2="768" stroke="#ffffff" stroke-width="1.7" /><line x1="1007.8" y1="660.8" x2="1007.8" y2="768" stroke="#ffffff" stroke-width="1.7" /><line x1="1007.8" y1="694" x2="1101.6" y2="694" stroke="#ffffff" stroke-width="1.7" /><line x1="1007.8" y1="727.8" x2="1101.6" y2="727.8" stroke="#ffffff" stroke-width="1.7" /><line x1="1007.8" y1="751" x2="1101.6" y2="751" stroke="#ffffff" stroke-width="1.7" /><path d="M763,703.8 L763,712.8 M761.7,706.95 L764.04,706.5 M764.82,704.25 L764.82,711 L764.56,712.8 M764.82,704.25 L766.64,704.25 L766.64,712.8 M768.94,703.8 L768.94,712.8 M767.9,706.5 L769.98,706.5 M770.76,704.7 L773.1,704.7 L773.1,711.9 L770.76,711.9 L770.76,704.7 M770.76,708.3 L773.1,708.3" stroke="#00ff00" stroke-width="1.0" fill="none"/><path d="M781.84,703.8 L781.84,712.8 M780.8,706.5 L782.88,706.5 M783.66,704.7 L786,704.7 L786,711.9 L783.66,711.9 L783.66,704.7 M783.66,708.3 L786,708.3 M788.04,703.8 L788.04,712.8 M787,706.5 L789.08,706.5 M789.86,704.7 L792.2,704.7 L792.2,711.9 L789.86,711.9 L789.86,704.7 M789.86,708.3 L792.2,708.3" stroke="#00ff00" stroke-width="1.0" fill="none"/><path d="M807.22,704.7 L811.38,704.7 L811.38,707.85 L807.22,707.85 L807.22,704.7 M809.3,707.85 L809.3,712.8 M807.22,710.1 L811.38,710.1 M806.7,712.8 L811.9,712.8 M813.94,703.8 L813.94,712.8 M812.9,706.5 L814.98,706.5 M815.76,704.7 L818.1,704.7 L818.1,711.9 L815.76,711.9 L815.76,704.7 M815.76,708.3 L818.1,708.3" stroke="#00ff00" stroke-width="1.0" fill="none"/><path d="M828.52,704.7 L832.68,704.7 L832.68,707.85 L828.52,707.85 L828.52,704.7 M830.6,707.85 L830.6,712.8 M828.52,710.1 L832.68,710.1 M828,712.8 L833.2,712.8 M835.24,703.8 L835.24,712.8 M837.06,703.8 L837.06,712.8 M837.06,706.5 L839.4,706.5 M837.06,710.55 L839.4,710.55 M834.2,708.3 L836.02,707.85 M841.44,703.8 L841.44,712.8 M843.26,703.8 L843.26,712.8 M843.26,706.5 L845.6,706.5 M843.26,710.55 L845.6,710.55 M840.4,708.3 L842.22,707.85 M847.64,703.8 L847.64,712.8 M846.6,706.5 L848.68,706.5 M849.46,704.7 L851.8,704.7 L851.8,711.9 L849.46,711.9 L849.46,704.7 M849.46,708.3 L851.8,708.3 M854.1,703.8 L854.1,712.8 M852.8,706.95 L855.14,706.5 M855.92,704.25 L855.92,711 L855.66,712.8 M855.92,704.25 L857.74,704.25 L857.74,712.8" stroke="#00ff00" stroke-width="1.0" fill="none"/><path d="M864.04,703.8 L864.04,712.8 M863,706.5 L865.08,706.5 M865.86,704.7 L868.2,704.7 L868.2,711.9 L865.86,711.9 L865.86,704.7 M865.86,708.3 L868.2,708.3 M869.2,706.95 L874.4,706.95 M871.8,703.8 L871.8,706.95 M871.8,706.95 L869.72,712.8 M871.8,706.95 L874.14,712.8" stroke="#00ff00" stroke-width="1.0" fill="none"/><path d="M883.54,703.8 L883.54,712.8 M882.5,706.5 L884.58,706.5 M885.36,704.7 L887.7,704.7 L887.7,711.9 L885.36,711.9 L885.36,704.7 M885.36,708.3 L887.7,708.3 M890.99,711.9 L891.61,711.9 L891.61,712.8 L890.99,712.8 L890.99,711.9 M895.94,703.8 L895.94,712.8 M894.9,706.5 L896.98,706.5 M897.76,704.7 L900.1,704.7 L900.1,711.9 L897.76,711.9 L897.76,704.7 M897.76,708.3 L900.1,708.3 M903.39,711.9 L904.01,711.9 L904.01,712.8 L903.39,712.8 L903.39,711.9 M908.6,703.8 L908.6,712.8 M907.3,706.95 L909.64,706.5 M910.42,704.25 L910.42,711 L910.16,712.8 M910.42,704.25 L912.24,704.25 L912.24,712.8" stroke="#00ff00" stroke-width="1.0" fill="none"/><path d="M764.52,717.95 L768.68,717.95 M766.6,717.95 L766.6,726.5 M764.26,722 L768.94,722 M764,726.5 L769.2,726.5 M771.5,717.5 L771.5,726.5 M770.2,720.65 L772.54,720.2 M773.32,717.95 L773.32,724.7 L773.06,726.5 M773.32,717.95 L775.14,717.95 L775.14,726.5" stroke="#00ff00" stroke-width="1.0" fill="none"/><path d="M838.3,717.5 L838.3,726.5 M837,720.65 L839.34,720.2 M840.12,717.95 L840.12,724.7 L839.86,726.5 M840.12,717.95 L841.94,717.95 L841.94,726.5 M844.24,717.5 L844.24,726.5 M843.2,720.2 L845.28,720.2 M846.06,718.4 L848.4,718.4 L848.4,725.6 L846.06,725.6 L846.06,718.4 M846.06,722 L848.4,722 M850.44,717.5 L850.44,726.5 M849.4,720.2 L851.48,720.2 M852.26,718.4 L854.6,718.4 L854.6,725.6 L852.26,725.6 L852.26,718.4 M852.26,722 L854.6,722" stroke="#00ff00" stroke-width="1.0" fill="none"/><path d="M765.3,744.5 L765.3,753.5 M764,747.65 L766.34,747.2 M767.12,744.95 L767.12,751.7 L766.86,753.5 M767.12,744.95 L768.94,744.95 L768.94,753.5 M770.72,745.4 L774.88,745.4 L774.88,748.55 L770.72,748.55 L770.72,745.4 M772.8,748.55 L772.8,753.5 M770.72,750.8 L774.88,750.8 M770.2,753.5 L775.4,753.5" stroke="#00ff00" stroke-width="1.0" fill="none"/><path d="M764,760.95 L769.2,760.95 M766.6,757.8 L766.6,760.95 M766.6,760.95 L764.52,766.8 M766.6,760.95 L768.94,766.8 M771.24,757.8 L771.24,766.8 M770.2,760.5 L772.28,760.5 M773.06,758.7 L775.4,758.7 L775.4,765.9 L773.06,765.9 L773.06,758.7 M773.06,762.3 L775.4,762.3" stroke="#00ff00" stroke-width="1.0" fill="none"/><path d="M841,757.8 L841,766.8 M839.7,760.95 L842.04,760.5 M842.82,758.25 L842.82,765 L842.56,766.8 M842.82,758.25 L844.64,758.25 L844.64,766.8 M846.94,757.8 L846.94,766.8 M845.9,760.5 L847.98,760.5 M848.76,758.7 L851.1,758.7 L851.1,765.9 L848.76,765.9 L848.76,758.7 M848.76,762.3 L851.1,762.3" stroke="#00ff00" stroke-width="1.0" fill="none"/><path d="M923.6,719.5 L923.6,728.5 M922.5,722.2 L924.7,722.2 M925.52,720.4 L928,720.4 L928,727.6 L925.52,727.6 L925.52,720.4 M925.52,724 L928,724 M930.67,719.5 L930.67,728.5 M929.3,722.65 L931.77,722.2 M932.6,719.95 L932.6,726.7 L932.32,728.5 M932.6,719.95 L934.52,719.95 L934.52,728.5 M937.48,719.5 L937.48,728.5 M936.1,722.65 L938.58,722.2 M939.4,719.95 L939.4,726.7 L939.12,728.5 M939.4,719.95 L941.33,719.95 L941.33,728.5 M944,719.5 L944,728.5 M942.9,722.2 L945.1,722.2 M945.92,720.4 L948.4,720.4 L948.4,727.6 L945.92,727.6 L945.92,720.4 M945.92,724 L948.4,724" stroke="#00ff00" stroke-width="1.0" fill="none"/><path d="M967.1,719.5 L967.1,728.5 M969.02,719.5 L969.02,728.5 M969.02,722.2 L971.5,722.2 M969.02,726.25 L971.5,726.25 M966,724 L967.92,723.55 M972.8,722.65 L978.3,722.65 M975.55,719.5 L975.55,722.65 M975.55,722.65 L973.35,728.5 M975.55,722.65 L978.02,728.5" stroke="#00ff00" stroke-width="1.0" fill="none"/><path d="M989.05,720.4 L993.45,720.4 L993.45,723.55 L989.05,723.55 L989.05,720.4 M991.25,723.55 L991.25,728.5 M989.05,725.8 L993.45,725.8 M988.5,728.5 L994,728.5 M996.4,719.5 L996.4,728.5 M998.32,719.5 L998.32,728.5 M998.32,722.2 L1000.8,722.2 M998.32,726.25 L1000.8,726.25 M995.3,724 L997.22,723.55" stroke="#00ff00" stroke-width="1.0" fill="none"/><path d="M991.2,740.3 V747.3 M998.6,740.3 V747.3 M994.9,742.3 V743.5 M994.9,745.6 V746.8" stroke="#00ff00" stroke-width="1.3"/><path d="M919.1,755.5 L919.1,764.5 M921.02,755.5 L921.02,764.5 M921.02,758.2 L923.5,758.2 M921.02,762.25 L923.5,762.25 M918,760 L919.92,759.55" stroke="#00ff00" stroke-width="1.0" fill="none"/><path d="M944.55,756.4 L948.95,756.4 L948.95,759.55 L944.55,759.55 L944.55,756.4 M946.75,759.55 L946.75,764.5 M944.55,761.8 L948.95,761.8 M944,764.5 L949.5,764.5" stroke="#00ff00" stroke-width="1.0" fill="none"/><path d="M969.55,755.95 L973.95,755.95 M971.75,755.95 L971.75,764.5 M969.27,760 L974.23,760 M969,764.5 L974.5,764.5" stroke="#00ff00" stroke-width="1.0" fill="none"/><path d="M993.55,756.4 L997.95,756.4 L997.95,759.55 L993.55,759.55 L993.55,756.4 M995.75,759.55 L995.75,764.5 M993.55,761.8 L997.95,761.8 M993,764.5 L998.5,764.5" stroke="#00ff00" stroke-width="1.0" fill="none"/><path d="M1017,709.65 L1024,709.65 M1020.5,705.8 L1020.5,709.65 M1020.5,709.65 L1017.7,716.8 M1020.5,709.65 L1023.65,716.8 M1027.7,705.8 L1027.7,716.8 M1030.15,705.8 L1030.15,716.8 M1030.15,709.1 L1033.3,709.1 M1030.15,714.05 L1033.3,714.05 M1026.3,711.3 L1028.75,710.75 M1036.3,706.35 L1041.9,706.35 M1039.1,706.35 L1039.1,716.8 M1035.95,711.3 L1042.25,711.3 M1035.6,716.8 L1042.6,716.8 M1045.6,706.9 L1051.2,706.9 L1051.2,710.75 L1045.6,710.75 L1045.6,706.9 M1048.4,710.75 L1048.4,716.8 M1045.6,713.5 L1051.2,713.5 M1044.9,716.8 L1051.9,716.8 M1055.6,705.8 L1055.6,716.8 M1054.2,709.1 L1057,709.1 M1058.05,706.9 L1061.2,706.9 L1061.2,715.7 L1058.05,715.7 L1058.05,706.9 M1058.05,711.3 L1061.2,711.3 M1065.25,705.8 L1065.25,716.8 M1063.5,709.65 L1066.65,709.1 M1067.7,706.35 L1067.7,714.6 L1067.35,716.8 M1067.7,706.35 L1070.15,706.35 L1070.15,716.8 M1074.55,705.8 L1074.55,716.8 M1072.8,709.65 L1075.95,709.1 M1077,706.35 L1077,714.6 L1076.65,716.8 M1077,706.35 L1079.45,706.35 L1079.45,716.8 M1082.8,706.9 L1088.4,706.9 L1088.4,710.75 L1082.8,710.75 L1082.8,706.9 M1085.6,710.75 L1085.6,716.8 M1082.8,713.5 L1088.4,713.5 M1082.1,716.8 L1089.1,716.8" stroke="#00ff00" stroke-width="1.1" fill="none"/></svg></body></html>
